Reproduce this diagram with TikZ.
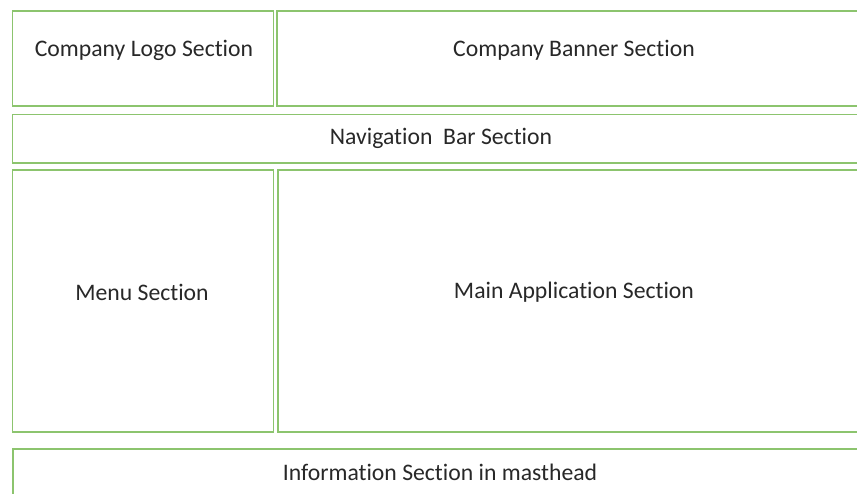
\documentclass[tikz,border=0pt]{standalone}
\usepackage{fontspec}
\setmainfont[RawFeature={-liga;-clig;-calt;-dlig}]{Carlito}
\definecolor{boxgreen}{RGB}{140,196,110}
\definecolor{labelgray}{RGB}{40,40,40}
% keep "t" and "i" as separate glyphs
\newcommand\ti{t\kern0pt i}
\begin{document}
\begin{tikzpicture}[x=1pt,y=-1pt,
  section/.style={draw=boxgreen,line width=1.9pt,fill=white},
  label/.style={text=labelgray,font=\fontsize{23.7}{26}\selectfont,inner sep=0pt,anchor=center}]
\useasboundingbox (0,0) rectangle (857,494);
\clip (0,0) rectangle (857,494);
\fill[white] (0,0) rectangle (857,494);
% page regions
\draw[section] (12.5,11) rectangle (273.5,106);
\draw[section] (277,11) rectangle (880,106);
\draw[section] (12.5,114.5) rectangle (880,163);
\draw[section] (12.5,170) rectangle (273.5,432);
\draw[section] (278,170) rectangle (880,432);
\draw[section] (13,449) rectangle (880,520);
% region titles
\node[label] (logo) at (144,50) {Company Logo Sec\ti on};
\node[label] (banner) at (574,50) {Company Banner Sec\ti on};
\node[label] (nav) at (441,138) {Naviga\ti on\ \ Bar Sec\ti on};
\node[label] (menu) at (142,292) {Menu Sec\ti on};
\node[label] (main) at (574,292) {Main Applica\ti on Sec\ti on};
\node[label] (info) at (440,472) {Informa\ti on Sec\ti on in masthead};
\end{tikzpicture}
\end{document}
